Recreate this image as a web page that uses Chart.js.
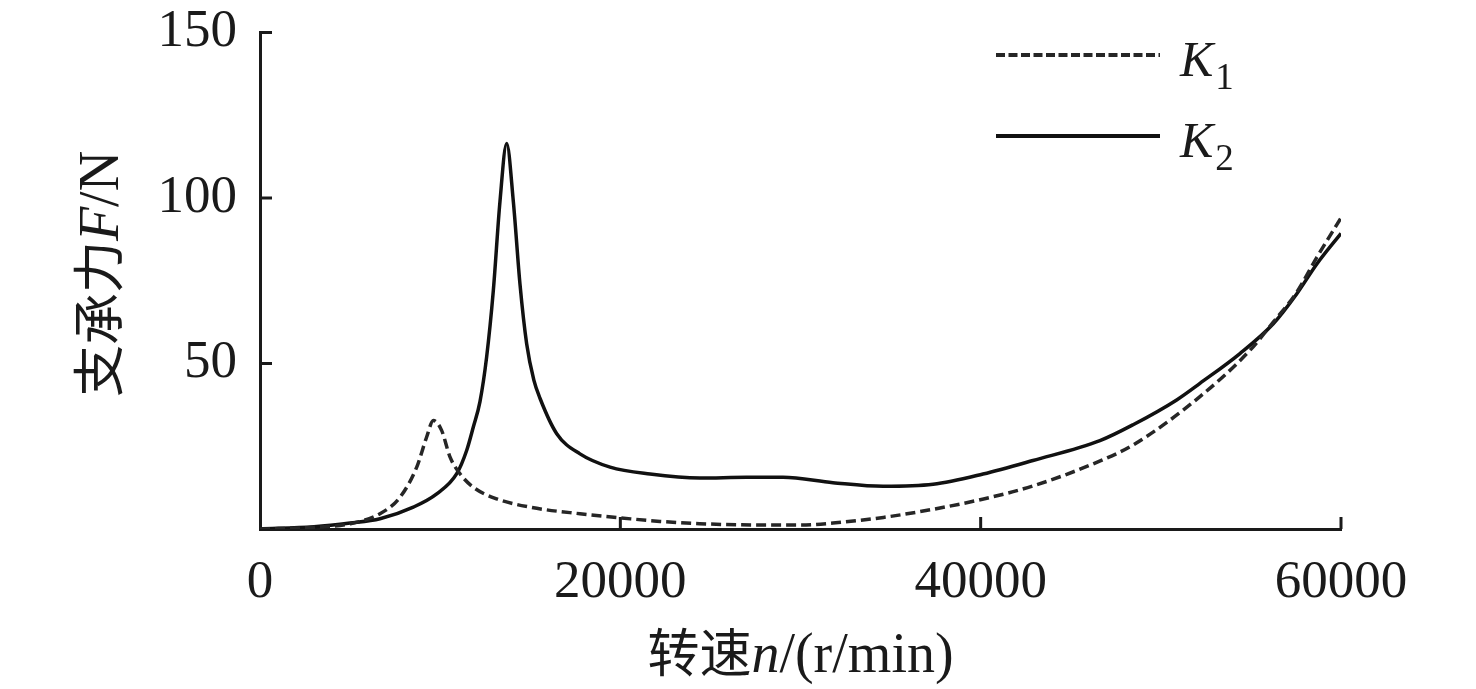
<!DOCTYPE html>
<html><head><meta charset="utf-8">
<script src="https://cdn.jsdelivr.net/npm/chart.js@4.4.1/dist/chart.umd.min.js"></script>
<style>html,body{margin:0;padding:0;background:#fff;overflow:hidden}
#wrap{position:relative;width:1476px;height:689px}</style>
</head><body><div id="wrap"><canvas id="c" width="1476" height="689"></canvas></div>
<script>
// ---- data ----
const speedK1 = [0, 3000, 5000, 6660, 7770, 8700, 9250, 9620, 10080, 10550, 11100, 11840, 13140, 14990, 17760, 20700, 22200, 24400, 28100, 30000, 31800, 34600, 37400, 40100, 42900, 46600, 48500, 52170, 54950, 56240, 57540, 58650, 60000];
const forceK1 = [0, 0.5, 1.6, 4.6, 9.6, 18.7, 27.8, 32.8, 29.8, 21.7, 16.7, 12.6, 9.1, 6.6, 4.6, 3, 2.3, 1.6, 1.2, 1.2, 1.8, 3.5, 6, 9, 13, 20.5, 25.5, 40, 54, 62.5, 71.5, 82, 94];
const speedK2 = [0, 3000, 5000, 6660, 8510, 9810, 10920, 11470, 11840, 12210, 12580, 12950, 13320, 13690, 14060, 14430, 14800, 15200, 15540, 16470, 17760, 19430, 21650, 24420, 27000, 29030, 31800, 34580, 37360, 40130, 42900, 46620, 48460, 50880, 52170, 54390, 56240, 57540, 58650, 60000];
const forceK2 = [0, 0.7, 1.8, 3.1, 6.6, 10.6, 16.7, 23.7, 30.8, 38.5, 52, 72, 99, 116.5, 99, 74, 56, 45, 39.5, 28.8, 22.7, 18.7, 16.6, 15.4, 15.6, 15.6, 14, 12.9, 13.5, 16.6, 20.7, 26.7, 31.5, 39, 44, 53, 62, 71, 80, 89.3];
const seriesLabels = ['K1', 'K2'];
const xTicks = [0, 20000, 40000, 60000];
const yTicks = [50, 100, 150];
const xTitleParts = [['转速', 'cjk'], ['n', 'it'], ['/(r/min)', 'rm']];
const yTitleParts = [['支承力', 'cjk'], ['F', 'it'], ['/N', 'rm']];

const INK = '#1a1a1a';
const FONTS = {
  cjk: '52px "Noto Sans CJK SC"',
  it: 'italic 56px "Liberation Serif"',
  rm: '56px "Liberation Serif"'
};

function drawParts(ctx, parts, cx, baseline) {
  let total = 0;
  const w = parts.map(p => { ctx.font = FONTS[p[1]]; const m = ctx.measureText(p[0]).width; total += m; return m; });
  let x = cx - total / 2;
  ctx.textBaseline = 'alphabetic';
  ctx.textAlign = 'left';
  parts.forEach((p, i) => { ctx.font = FONTS[p[1]]; ctx.fillText(p[0], x, baseline); x += w[i]; });
}

const decor = {
  id: 'decor',
  afterDraw(chart) {
    const ctx = chart.ctx;
    const xs = chart.scales.x, ys = chart.scales.y;
    ctx.save();
    // inward tick marks
    ctx.strokeStyle = INK; ctx.lineWidth = 3;
    yTicks.forEach(v => {
      const p = ys.getPixelForValue(v);
      ctx.beginPath(); ctx.moveTo(xs.left, p); ctx.lineTo(xs.left + 12, p); ctx.stroke();
    });
    xTicks.slice(1).forEach(v => {
      const p = xs.getPixelForValue(v);
      ctx.beginPath(); ctx.moveTo(p, ys.bottom); ctx.lineTo(p, ys.bottom - 12); ctx.stroke();
    });
    // axis titles
    ctx.fillStyle = INK;
    drawParts(ctx, xTitleParts, (xs.left + xs.right) / 2, 672);
    ctx.save();
    ctx.translate(118, 274);
    ctx.rotate(-Math.PI / 2);
    drawParts(ctx, yTitleParts, 0, 0);
    ctx.restore();
    // legend
    const rows = [55, 136];
    chart.data.datasets.forEach((ds, i) => {
      const y = rows[i];
      ctx.strokeStyle = ds.borderColor;
      ctx.lineWidth = 4;
      ctx.setLineDash(i === 0 ? [9, 3.5] : []);
      ctx.beginPath(); ctx.moveTo(996, y); ctx.lineTo(1160, y); ctx.stroke();
      ctx.setLineDash([]);
      ctx.fillStyle = INK;
      ctx.textAlign = 'left'; ctx.textBaseline = 'alphabetic';
      ctx.font = 'italic 50px "Liberation Serif"';
      const base = ds.label.charAt(0), sub = ds.label.slice(1);
      const by = y + 21;
      ctx.fillText(base, 1180, by);
      const kw = ctx.measureText(base).width;
      ctx.font = '37px "Liberation Serif"';
      ctx.fillText(sub, 1180 + kw + 2, by + 13);
    });
    ctx.restore();
  }
};

const toPts = (xs, ys) => xs.map((x, i) => ({ x: x, y: ys[i] }));

new Chart(document.getElementById('c'), {
  type: 'line',
  data: {
    datasets: [
      { label: seriesLabels[0], data: toPts(speedK1, forceK1), borderColor: '#262626', borderWidth: 3.5, borderDash: [10, 5], pointRadius: 0, cubicInterpolationMode: 'monotone', fill: false },
      { label: seriesLabels[1], data: toPts(speedK2, forceK2), borderColor: '#111111', borderWidth: 3.5, pointRadius: 0, cubicInterpolationMode: 'monotone', fill: false }
    ]
  },
  options: {
    responsive: false,
    animation: false,
    devicePixelRatio: 1,
    layout: { padding: { left: 0, right: 135, top: 32.5, bottom: 0 } },
    plugins: { legend: { display: false }, tooltip: { enabled: false } },
    scales: {
      x: {
        type: 'linear', min: 0, max: 60000,
        afterBuildTicks: s => { s.ticks = xTicks.map(v => ({ value: v })); },
        afterFit: s => { s.height = 160; },
        grid: { display: true, drawOnChartArea: false, drawTicks: false },
        border: { display: true, color: INK, width: 3 },
        ticks: { color: INK, padding: 22, maxRotation: 0, autoSkip: false, font: { family: '"Liberation Serif"', size: 53 }, callback: v => String(v) }
      },
      y: {
        min: 0, max: 150,
        afterBuildTicks: s => { s.ticks = [0].concat(yTicks).map(v => ({ value: v })); },
        afterFit: s => { s.width = 260; s.paddingTop = 0; s.paddingBottom = 0; },
        grid: { display: true, drawOnChartArea: false, drawTicks: false },
        border: { display: true, color: INK, width: 3 },
        ticks: { color: INK, padding: 23, font: { family: '"Liberation Serif"', size: 53 }, callback: v => (v === 0 ? '' : String(v)) }
      }
    }
  },
  plugins: [decor]
});
</script></body></html>
